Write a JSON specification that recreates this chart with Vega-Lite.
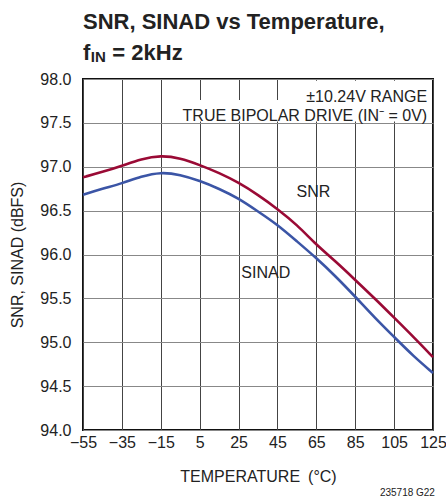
{
  "$schema": "https://vega.github.io/schema/vega-lite/v6.json",
  "autosize": "none",
  "width": 350,
  "height": 351,
  "padding": {"left": 83, "top": 79, "right": 13, "bottom": 71},
  "background": "white",
  "config": {
    "font": "Liberation Sans, Arial, sans-serif",
    "view": {"stroke": "#111", "strokeWidth": 2},
    "text": {"font": "Liberation Sans, Arial, sans-serif"},
    "axis": {"labelOverlap": false, "labelFlush": false, "labelBound": false}
  },
  "title": {
    "text": ["SNR, SINAD vs Temperature,", "f\u2002\u2002= 2kHz"],
    "anchor": "start",
    "frame": "group",
    "fontSize": 22,
    "fontWeight": "bold",
    "lineHeight": 31,
    "color": "#222",
    "offset": 9,
    "dy": 24,
    "font": "Liberation Sans, Arial, sans-serif"
  },
  "datasets": {
    "curves": [
      {"t": -55, "SNR": 96.88, "SINAD": 96.68},
      {"t": -45, "SNR": 96.94, "SINAD": 96.75},
      {"t": -35, "SNR": 97.01, "SINAD": 96.81},
      {"t": -25, "SNR": 97.09, "SINAD": 96.89},
      {"t": -15, "SNR": 97.13, "SINAD": 96.94},
      {"t": -5, "SNR": 97.10, "SINAD": 96.91},
      {"t": 5, "SNR": 97.02, "SINAD": 96.84},
      {"t": 15, "SNR": 96.93, "SINAD": 96.75},
      {"t": 25, "SNR": 96.82, "SINAD": 96.64},
      {"t": 35, "SNR": 96.68, "SINAD": 96.49},
      {"t": 45, "SNR": 96.52, "SINAD": 96.34},
      {"t": 55, "SNR": 96.34, "SINAD": 96.15},
      {"t": 65, "SNR": 96.11, "SINAD": 95.96},
      {"t": 75, "SNR": 95.92, "SINAD": 95.75},
      {"t": 85, "SNR": 95.71, "SINAD": 95.52},
      {"t": 95, "SNR": 95.50, "SINAD": 95.28},
      {"t": 105, "SNR": 95.28, "SINAD": 95.06},
      {"t": 115, "SNR": 95.06, "SINAD": 94.84},
      {"t": 125, "SNR": 94.83, "SINAD": 94.65}
    ]
  },
  "layer": [
    {
      "data": {"name": "curves"},
      "mark": {"type": "line", "interpolate": "basis", "color": "#9a0a35", "strokeWidth": 2.6},
      "encoding": {
        "x": {
          "field": "t", "type": "quantitative",
          "scale": {"domain": [-55, 125], "nice": false, "zero": false},
          "axis": {
            "values": [-55, -35, -15, 5, 25, 45, 65, 85, 105, 125],
            "tickCount": 20,
            "title": "TEMPERATURE\u2002(°C)",
            "domain": false, "ticks": false, "labelFlush": false, "labelOverlap": false,
            "gridColor": "#444", "gridWidth": 1, "gridOpacity": 1,
            "labelFont": "Liberation Sans, Arial, sans-serif", "titleFont": "Liberation Sans, Arial, sans-serif",
            "labelFontSize": 16, "labelColor": "#222", "labelPadding": 4,
            "titleFontSize": 16, "titleColor": "#222", "titleFontWeight": "normal", "titlePadding": 18
          }
        },
        "y": {
          "field": "SNR", "type": "quantitative",
          "scale": {"domain": [94, 98], "nice": false, "zero": false},
          "axis": {
            "values": [94, 94.5, 95, 95.5, 96, 96.5, 97, 97.5, 98],
            "tickCount": 20,
            "format": ".1f",
            "title": "SNR, SINAD (dBFS)",
            "domain": false, "ticks": false, "labelFlush": false, "labelOverlap": false,
            "gridColor": "#888", "gridWidth": 1, "gridOpacity": 1,
            "labelFont": "Liberation Sans, Arial, sans-serif", "titleFont": "Liberation Sans, Arial, sans-serif",
            "labelFontSize": 16, "labelColor": "#222", "labelPadding": 12,
            "titleFontSize": 16, "titleColor": "#222", "titleFontWeight": "normal", "titlePadding": 14
          }
        }
      }
    },
    {
      "data": {"name": "curves"},
      "mark": {"type": "line", "interpolate": "basis", "color": "#3b55a6", "strokeWidth": 2.6},
      "encoding": {"x": {"field": "t", "type": "quantitative"}, "y": {"field": "SINAD", "type": "quantitative"}}
    },
    {
      "data": {"values": [{}]},
      "mark": {"type": "rect", "color": "white"},
      "encoding": {"x": {"datum": 59.5}, "x2": {"datum": 124.3}, "y": {"datum": 97.98}, "y2": {"datum": 97.75}}
    },
    {
      "data": {"values": [{}]},
      "mark": {"type": "rect", "color": "white"},
      "encoding": {"x": {"datum": -6}, "x2": {"datum": 124.3}, "y": {"datum": 97.76}, "y2": {"datum": 97.515}}
    },
    {
      "data": {"values": [{}]},
      "mark": {"type": "text", "align": "right", "baseline": "alphabetic", "fontSize": 16, "color": "#222"},
      "encoding": {"x": {"datum": 122}, "y": {"datum": 97.74}, "text": {"value": "±10.24V RANGE"}}
    },
    {
      "data": {"values": [{}]},
      "mark": {"type": "text", "align": "right", "baseline": "alphabetic", "fontSize": 16, "color": "#222"},
      "encoding": {"x": {"datum": 122}, "y": {"datum": 97.525}, "text": {"value": "TRUE BIPOLAR DRIVE (IN⁻ = 0V)"}}
    },
    {
      "data": {"values": [{}]},
      "mark": {"type": "text", "align": "center", "baseline": "alphabetic", "fontSize": 16, "color": "#222"},
      "encoding": {"x": {"datum": 63.5}, "y": {"datum": 96.66}, "text": {"value": "SNR"}}
    },
    {
      "data": {"values": [{}]},
      "mark": {"type": "text", "align": "center", "baseline": "alphabetic", "fontSize": 16, "color": "#222"},
      "encoding": {"x": {"datum": 39}, "y": {"datum": 95.73}, "text": {"value": "SINAD"}}
    },
    {
      "data": {"values": [{}]},
      "mark": {"type": "text", "align": "left", "baseline": "alphabetic", "fontSize": 15, "fontWeight": "bold", "color": "#222", "clip": false},
      "encoding": {"x": {"datum": -51}, "y": {"datum": 98.19}, "text": {"value": "IN"}}
    },
    {
      "data": {"values": [{}]},
      "mark": {"type": "text", "align": "right", "baseline": "alphabetic", "fontSize": 10, "color": "#222", "clip": false},
      "encoding": {"x": {"datum": 126}, "y": {"datum": 93.25}, "text": {"value": "235718 G22"}}
    }
  ]
}
